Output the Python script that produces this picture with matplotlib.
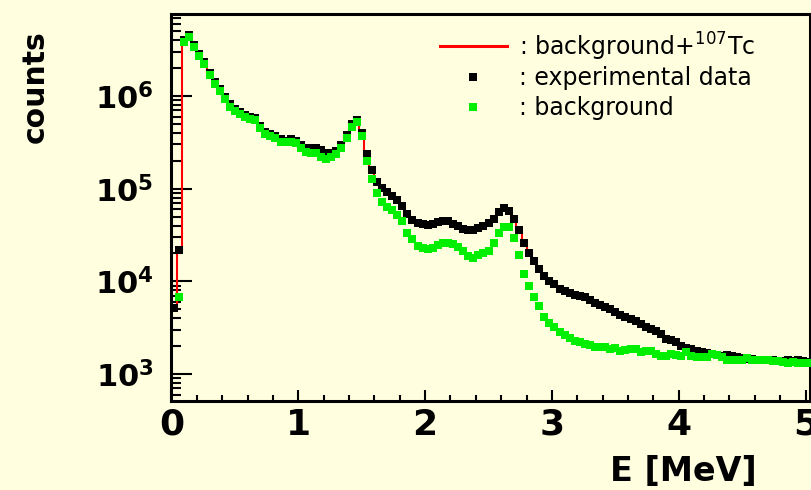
import matplotlib

matplotlib.use("Agg")

import matplotlib.pyplot as plt
import numpy as np
from matplotlib.lines import Line2D
from matplotlib.ticker import MultipleLocator, NullFormatter

# binning del espectro (MeV)
bin_width = 0.04
n_bins = 126

# datos experimentales (cuentas por bin)
data_counts = [
    5.2e3, 2.2e4, 4.04e6, 4.52e6, 3.58e6, 2.84e6, 2.31e6, 1.78e6, 1.42e6, 1.18e6,
    9.7e5, 8.1e5, 7.2e5, 6.7e5, 6.3e5, 6.0e5, 5.8e5, 4.7e5, 4.1e5, 3.9e5,
    3.7e5, 3.4e5, 3.3e5, 3.44e5, 3.27e5, 2.96e5, 2.75e5, 2.75e5, 2.75e5, 2.61e5,
    2.43e5, 2.43e5, 2.55e5, 2.96e5, 3.8e5, 5.0e5, 5.51e5, 3.99e5, 2.37e5, 1.59e5,
    1.19e5, 1.02e5, 9.2e4, 8.3e4, 7.5e4, 6.5e4, 5.3e4, 4.6e4, 4.26e4, 4.16e4,
    4.05e4, 4.16e4, 4.32e4, 4.43e4, 4.48e4, 4.16e4, 3.91e4, 3.63e4, 3.58e4, 3.54e4,
    3.77e4, 3.96e4, 4.26e4, 4.71e4, 5.53e4, 6.11e4, 5.81e4, 4.71e4, 3.58e4, 2.59e4,
    2.00e4, 1.64e4, 1.36e4, 1.14e4, 1.02e4, 9.4e3, 8.3e3, 7.9e3, 7.5e3, 7.2e3,
    6.95e3, 6.7e3, 6.3e3, 5.9e3, 5.6e3, 5.3e3, 5.0e3, 4.7e3, 4.3e3, 4.1e3,
    3.9e3, 3.7e3, 3.5e3, 3.2e3, 3.06e3, 2.88e3, 2.70e3, 2.39e3, 2.33e3, 2.21e3,
    2.00e3, 1.93e3, 1.84e3, 1.79e3, 1.73e3, 1.69e3, 1.64e3, 1.60e3, 1.58e3, 1.60e3,
    1.56e3, 1.51e3, 1.47e3, 1.45e3, 1.44e3, 1.42e3, 1.42e3, 1.41e3, 1.42e3, 1.38e3,
    1.38e3, 1.41e3, 1.38e3, 1.41e3, 1.38e3, 1.35e3,
]

# ajuste background + 107Tc
fit_counts = [
    5.2e3, 2.2e4, 4.04e6, 4.52e6, 3.58e6, 2.84e6, 2.31e6, 1.78e6, 1.42e6, 1.18e6,
    9.7e5, 8.1e5, 7.2e5, 6.7e5, 6.3e5, 6.0e5, 5.8e5, 4.7e5, 4.1e5, 3.9e5,
    3.7e5, 3.4e5, 3.3e5, 3.44e5, 3.27e5, 2.96e5, 2.75e5, 2.75e5, 2.75e5, 2.61e5,
    2.43e5, 2.43e5, 2.55e5, 2.96e5, 3.8e5, 5.0e5, 5.51e5, 3.99e5, 2.37e5, 1.59e5,
    1.19e5, 1.02e5, 9.2e4, 8.3e4, 7.5e4, 6.5e4, 5.3e4, 4.6e4, 4.26e4, 4.16e4,
    4.05e4, 4.16e4, 4.32e4, 4.43e4, 4.48e4, 4.16e4, 3.91e4, 3.63e4, 3.58e4, 3.54e4,
    3.77e4, 3.96e4, 4.26e4, 4.71e4, 5.53e4, 6.11e4, 5.81e4, 4.71e4, 3.58e4, 2.59e4,
    2.00e4, 1.64e4, 1.36e4, 1.14e4, 1.02e4, 9.4e3, 8.3e3, 7.9e3, 7.5e3, 7.2e3,
    6.95e3, 6.7e3, 6.3e3, 5.9e3, 5.6e3, 5.3e3, 5.0e3, 4.7e3, 4.3e3, 4.1e3,
    3.9e3, 3.7e3, 3.5e3, 3.2e3, 3.06e3, 2.88e3, 2.70e3, 2.39e3, 2.33e3, 2.21e3,
    2.00e3, 1.93e3, 1.84e3, 1.79e3, 1.73e3, 1.69e3, 1.64e3, 1.60e3, 1.58e3, 1.60e3,
    1.56e3, 1.51e3, 1.47e3, 1.45e3, 1.44e3, 1.42e3, 1.42e3, 1.41e3, 1.42e3, 1.38e3,
    1.38e3, 1.41e3, 1.38e3, 1.41e3, 1.38e3, 1.35e3,
]

# fondo
background_counts = [
    np.nan, 6.8e3, 3.85e6, 4.30e6, 3.40e6, 2.70e6, 2.20e6, 1.70e6, 1.35e6, 1.12e6,
    9.2e5, 7.7e5, 6.9e5, 6.4e5, 6.0e5, 5.7e5, 5.5e5, 4.5e5, 3.9e5, 3.7e5,
    3.55e5, 3.2e5, 3.16e5, 3.16e5, 3.08e5, 2.77e5, 2.47e5, 2.41e5, 2.41e5, 2.18e5,
    2.07e5, 2.21e5, 2.37e5, 2.77e5, 3.55e5, 4.67e5, 5.28e5, 3.70e5, 1.99e5, 1.28e5,
    9.0e4, 7.2e4, 6.4e4, 5.9e4, 5.2e4, 4.5e4, 3.35e4, 2.86e4, 2.43e4, 2.27e4,
    2.23e4, 2.31e4, 2.47e4, 2.61e4, 2.61e4, 2.53e4, 2.37e4, 2.13e4, 1.88e4, 1.80e4,
    1.92e4, 2.04e4, 2.13e4, 2.57e4, 3.30e4, 3.89e4, 3.89e4, 2.91e4, 1.92e4, 1.20e4,
    8.97e3, 6.73e3, 5.42e3, 4.15e3, 3.52e3, 3.21e3, 2.84e3, 2.64e3, 2.42e3, 2.27e3,
    2.19e3, 2.13e3, 2.03e3, 1.97e3, 1.97e3, 1.96e3, 1.85e3, 1.91e3, 1.75e3, 1.82e3,
    1.86e3, 1.84e3, 1.74e3, 1.78e3, 1.77e3, 1.64e3, 1.56e3, 1.55e3, 1.64e3, 1.60e3,
    1.56e3, 1.71e3, 1.55e3, 1.54e3, 1.54e3, 1.54e3, 1.66e3, 1.60e3, 1.54e3, 1.42e3,
    1.41e3, 1.40e3, 1.40e3, 1.48e3, 1.42e3, 1.42e3, 1.41e3, 1.41e3, 1.38e3, 1.37e3,
    1.35e3, 1.31e3, 1.36e3, 1.33e3, 1.31e3, 1.31e3,
]

xticks = [0, 1, 2, 3, 4, 5]
yticks = [1e3, 1e4, 1e5, 1e6]
ytick_labels = [r"$\mathbf{10^{3}}$", r"$\mathbf{10^{4}}$", r"$\mathbf{10^{5}}$", r"$\mathbf{10^{6}}$"]
legend_labels = [": background+$^{107}$Tc", ": experimental data", ": background"]

FONDO = "#FFFFE0"
VERDE = "#00EE00"
MS = 5.1

edges = np.arange(n_bins + 1) * bin_width
centers = edges[:-1] + bin_width / 2

fig = plt.figure(figsize=(8.12, 4.90), dpi=100, facecolor=FONDO)
ax = fig.add_axes([171.5 / 812, 89 / 490, 638.5 / 812, 387 / 490], facecolor=FONDO)

ax.stairs(fit_counts, edges, baseline=None, color="red", linewidth=1.5, zorder=2)
ax.plot(centers, data_counts, "s", color="black", markersize=MS, markeredgewidth=0, zorder=3)
ax.plot(centers, background_counts, "s", color=VERDE, markersize=MS, markeredgewidth=0, zorder=4)

ax.set_yscale("log")
ax.set_xlim(0, 5.035)
ax.set_ylim(511, 7.67e6)

ax.set_xticks(xticks)
ax.set_xticklabels([str(t) for t in xticks], fontsize=26, fontweight="bold")
ax.xaxis.set_minor_locator(MultipleLocator(0.2))
ax.set_yticks(yticks)
ax.set_yticklabels(ytick_labels, fontsize=22)
ax.yaxis.set_minor_formatter(NullFormatter())

ax.tick_params(axis="x", which="major", direction="in", length=8, width=1.5, pad=5)
ax.tick_params(axis="x", which="minor", direction="in", length=4, width=1.5)
ax.tick_params(axis="y", which="major", direction="in", length=15, width=1.5, pad=13)
ax.tick_params(axis="y", which="minor", direction="in", length=7.5, width=1.5)
for s in ax.spines.values():
    s.set_linewidth(2.2)

ax.set_xlabel("E [MeV]", loc="right", fontsize=24, fontweight="bold")
ax.xaxis.set_label_coords((757 - 171.5) / 638.5, -0.14)
ax.set_ylabel("counts", loc="top", fontsize=21.5, fontweight="bold")
ax.yaxis.set_label_coords((50 - 171.5) / 638.5, (401 - 30) / 387)

# leyenda dibujada a mano, sin marco
def px(x, y):
    return (x - 171.5) / 638.5, (401 - y) / 387

ax.add_line(Line2D(*zip(px(440, 46), px(507, 46)), color="red", linewidth=2.2,
                   transform=ax.transAxes, clip_on=False))
for y, c in [(77, "black"), (107, VERDE)]:
    mx, my = px(473, y)
    ax.plot([mx], [my], "s", color=c, markersize=MS, markeredgewidth=0, transform=ax.transAxes)
for y, texto in zip([56, 85, 115], legend_labels):
    tx, ty = px(519, y)
    ax.text(tx, ty, texto, transform=ax.transAxes, fontsize=17, va="baseline", ha="left")

fig.savefig("out.png", dpi=100, facecolor=FONDO)
